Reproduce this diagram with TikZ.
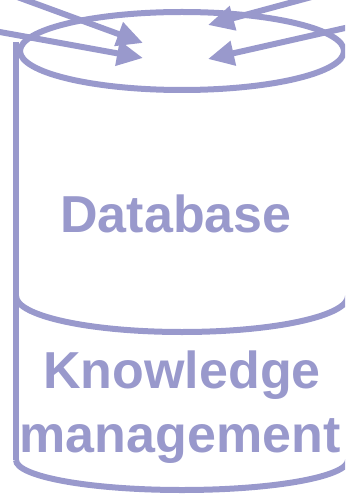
\documentclass[tikz,border=0pt]{standalone}
\usepackage{fontspec}
\setmainfont{Liberation Sans}
\usetikzlibrary{arrows.meta}
\definecolor{peri}{RGB}{153,153,204}
\tikzset{
  cyl/.style={draw=peri, line width=6pt},
  inarrow/.style={draw=peri, line width=6pt, -{Triangle[length=26pt,width=24pt]}},
  lbl/.style={text=peri, font=\fontsize{52}{62}\selectfont\bfseries, anchor=base, inner sep=0pt}
}
\begin{document}
\begin{tikzpicture}[x=1pt,y=-1pt]
\useasboundingbox (0,0) rectangle (345,494);
\begin{scope}
\clip (0,0) rectangle (345,494);
% cylinder
\draw[cyl] (182,51) ellipse [x radius=162pt, y radius=39pt];
\draw[cyl] (16,42) -- (16,460);
\draw[cyl] (16,296) .. controls (16,316) and (90,332) .. (182,332) .. controls (274,332) and (348,316) .. (348,296);
\draw[cyl] (16,460) .. controls (16,476.6) and (90,490) .. (182,490) .. controls (274,490) and (348,476.6) .. (348,460);
% arrows
\coordinate (s1) at (1,-9);
\coordinate (t1) at (143,43);
\coordinate (s2) at (-20,28.4);
\coordinate (t2) at (143,58);
\coordinate (s3) at (330,-8);
\coordinate (t3) at (208,25);
\coordinate (s4) at (365,23.5);
\coordinate (t4) at (208,59);
\draw[inarrow] (s1) -- (t1);
\draw[inarrow] (s2) -- (t2);
\draw[inarrow] (s3) -- (t3);
\draw[inarrow] (s4) -- (t4);
\end{scope}
% labels
\node[lbl] (db) at (176,232) {Database};
\node[lbl] (kn) at (182,388) {Knowledge};
\node[lbl] (mg) at (180,452) {management};
\end{tikzpicture}
\end{document}
